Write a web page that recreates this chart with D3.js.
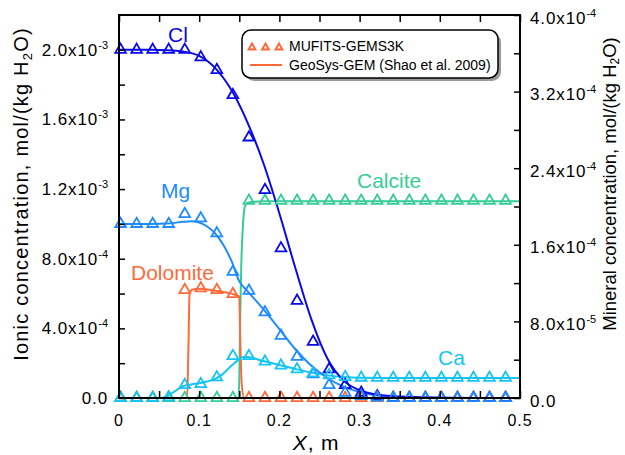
<!DOCTYPE html>
<html>
<head>
<meta charset="utf-8">
<script src="https://cdn.jsdelivr.net/npm/d3@7"></script>
<style>
body { margin: 0; background: #fff; }
text { font-family: Arial, "Liberation Sans", Helvetica, sans-serif; }
</style>
</head>
<body>
<div id="chart"></div>
<script>
// MUFITS-GEMS3K cell positions, m
const cellX = [0.002, 0.022, 0.042, 0.062, 0.082, 0.102, 0.122, 0.142, 0.162, 0.182, 0.202, 0.222, 0.242,
    0.262, 0.282, 0.302, 0.322, 0.342, 0.362, 0.382, 0.402, 0.422, 0.442, 0.462, 0.482];

// MUFITS-GEMS3K, ionic concentration, mol/kgw
const clCells = [2.0e-3, 2.0e-3, 2.0e-3, 2.0e-3, 2.0e-3, 1.957e-3, 1.884e-3, 1.740e-3, 1.497e-3, 1.195e-3, 0.860e-3,
    0.559e-3, 0.323e-3, 0.165e-3, 0.075e-3, 0.030e-3, 0.010e-3, 0, 0, 0, 0, 0, 0, 0, 0];
const mgCells = [1.0e-3, 1.0e-3, 1.0e-3, 1.0e-3, 1.057e-3, 1.032e-3, 0.946e-3, 0.725e-3, 0.616e-3, 0.492e-3, 0.358e-3,
    0.237e-3, 0.136e-3, 0.075e-3, 0.030e-3, 0.012e-3, 0.003e-3, 0, 0, 0, 0, 0, 0, 0, 0];
const caCells = [0, 0, 0, 0.004e-3, 0.075e-3, 0.080e-3, 0.119e-3, 0.241e-3, 0.241e-3, 0.209e-3, 0.186e-3, 0.165e-3,
    0.142e-3, 0.130e-3, 0.120e-3, 0.117e-3, 0.116e-3, 0.116e-3, 0.116e-3, 0.116e-3, 0.116e-3, 0.116e-3, 0.116e-3, 0.116e-3, 0.116e-3];
// MUFITS-GEMS3K, mineral concentration
const calciteCells = [0, 0, 0, 0, 0, 0, 0, 0, 2.06e-4, 2.06e-4, 2.06e-4, 2.06e-4, 2.06e-4, 2.06e-4, 2.06e-4, 2.06e-4,
    2.06e-4, 2.06e-4, 2.06e-4, 2.06e-4, 2.06e-4, 2.06e-4, 2.06e-4, 2.06e-4, 2.06e-4];
const dolomiteCells = [0, 0, 0, 0, 1.128e-4, 1.146e-4, 1.128e-4, 1.086e-4, 0, 0, 0, 0, 0, 0, 0, 0, 0, 0, 0, 0, 0, 0, 0, 0, 0];

// GeoSys-GEM (Shao et al. 2009)
const clLineX = [0, 0.04, 0.06, 0.08, 0.10, 0.12, 0.14, 0.16, 0.18, 0.20, 0.22, 0.24, 0.26, 0.28, 0.30, 0.32, 0.35, 0.40, 0.45, 0.50];
const clLineY = [2.0e-3, 2.0e-3, 1.998e-3, 1.990e-3, 1.965e-3, 1.895e-3, 1.770e-3, 1.585e-3, 1.350e-3, 1.060e-3, 0.745e-3,
    0.450e-3, 0.225e-3, 0.100e-3, 0.045e-3, 0.020e-3, 0.008e-3, 0.002e-3, 0, 0];
const mgLineX = [0, 0.04, 0.06, 0.08, 0.09, 0.10, 0.11, 0.12, 0.13, 0.14, 0.15, 0.16, 0.18, 0.20, 0.22, 0.24, 0.26, 0.28, 0.30, 0.32, 0.35, 0.40, 0.50];
const mgLineY = [1.0e-3, 1.0e-3, 1.002e-3, 1.012e-3, 1.015e-3, 1.008e-3, 0.985e-3, 0.945e-3, 0.880e-3, 0.790e-3, 0.670e-3,
    0.615e-3, 0.510e-3, 0.395e-3, 0.280e-3, 0.185e-3, 0.115e-3, 0.065e-3, 0.034e-3, 0.016e-3, 0.005e-3, 0.001e-3, 0];
const caLineX = [0, 0.05, 0.055, 0.06, 0.07, 0.08, 0.09, 0.10, 0.11, 0.12, 0.13, 0.14, 0.15, 0.155, 0.16, 0.18, 0.20, 0.22, 0.24, 0.26, 0.28, 0.30, 0.35, 0.50];
const caLineY = [0, 0, 0.002e-3, 0.010e-3, 0.040e-3, 0.068e-3, 0.078e-3, 0.085e-3, 0.095e-3, 0.110e-3, 0.140e-3, 0.185e-3,
    0.222e-3, 0.235e-3, 0.235e-3, 0.212e-3, 0.190e-3, 0.167e-3, 0.146e-3, 0.130e-3, 0.120e-3, 0.116e-3, 0.115e-3, 0.115e-3];
const calciteLineX = [0, 0.149, 0.150, 0.151, 0.1525, 0.1545, 0.157, 0.160, 0.18, 0.50];
const calciteLineY = [0, 0, 0.2e-4, 0.8e-4, 1.4e-4, 1.8e-4, 2.0e-4, 2.04e-4, 2.055e-4, 2.055e-4];
const dolomiteLineX = [0, 0.085, 0.0865, 0.088, 0.091, 0.10, 0.12, 0.14, 0.150, 0.1512, 0.153, 0.156, 0.50];
const dolomiteLineY = [0, 0, 0.5e-4, 1.08e-4, 1.13e-4, 1.14e-4, 1.12e-4, 1.09e-4, 1.06e-4, 0.6e-4, 0.15e-4, 0, 0];

// ticks
const xTickMarks = [0, 0.05, 0.1, 0.15, 0.2, 0.25, 0.3, 0.35, 0.4, 0.45, 0.5];
const xTickLabels = ["0", "0.1", "0.2", "0.3", "0.4", "0.5"];
const xTickValues = [0, 0.1, 0.2, 0.3, 0.4, 0.5];
const leftTickMarks = [0, 2e-4, 4e-4, 6e-4, 8e-4, 1.0e-3, 1.2e-3, 1.4e-3, 1.6e-3, 1.8e-3, 2.0e-3];
const leftTickValues = [0, 4e-4, 8e-4, 1.2e-3, 1.6e-3, 2.0e-3];
const leftTickMant = ["0.0", "4.0", "8.0", "1.2", "1.6", "2.0"];
const leftTickExp = ["", "-4", "-4", "-3", "-3", "-3"];
const rightTickMarks = [0, 4e-5, 8e-5, 1.2e-4, 1.6e-4, 2.0e-4, 2.4e-4, 2.8e-4, 3.2e-4, 3.6e-4, 4.0e-4];
const rightTickValues = [0, 8e-5, 1.6e-4, 2.4e-4, 3.2e-4, 4.0e-4];
const rightTickMant = ["0.0", "8.0", "1.6", "2.4", "3.2", "4.0"];
const rightTickExp = ["", "-5", "-4", "-4", "-4", "-4"];

const colors = { cl: "#0a0ae6", mg: "#1e8cff", ca: "#14c4f5", calcite: "#36cc96", dolomite: "#ff6a3a" };

const W = 625, H = 455;
const L = 119, R = 520, T = 15, B = 398;

const svg = d3.select("#chart").append("svg")
    .attr("width", W)
    .attr("height", H);

const x = d3.scaleLinear().domain([0, 0.5]).range([L, R]);
const yL = d3.scaleLinear().domain([0, 2.2e-3]).range([B, T]);
const yR = d3.scaleLinear().domain([0, 4e-4]).range([B, T]);

// lines
function drawLine(xs, ys, yScale, color) {
    const line = d3.line()
        .x(d => x(d[0]))
        .y(d => yScale(d[1]))
        .curve(d3.curveMonotoneX);
    svg.append("path")
        .datum(xs.map((v, i) => [v, ys[i]]))
        .attr("d", line)
        .attr("fill", "none")
        .attr("stroke", color)
        .attr("stroke-width", 2);
}
drawLine(calciteLineX, calciteLineY, yR, colors.calcite);
drawLine(dolomiteLineX, dolomiteLineY, yR, colors.dolomite);
drawLine(caLineX, caLineY, yL, colors.ca);
drawLine(mgLineX, mgLineY, yL, colors.mg);
drawLine(clLineX, clLineY, yL, colors.cl);

// triangles
const tri = d3.symbol().type(d3.symbolTriangle).size(50);
function drawCells(vals, yScale, color) {
    svg.append("g").selectAll("path")
        .data(vals)
        .join("path")
        .attr("d", tri)
        .attr("transform", (d, i) => `translate(${x(cellX[i])},${yScale(d)})`)
        .attr("fill", "none")
        .attr("stroke", color)
        .attr("stroke-width", 1.8);
}
drawCells(dolomiteCells, yR, colors.dolomite);
drawCells(calciteCells, yR, colors.calcite);
drawCells(clCells, yL, colors.cl);
drawCells(mgCells, yL, colors.mg);
drawCells(caCells, yL, colors.ca);

// axes (ticks pointing inward)
function tickStyle(g) {
    g.select(".domain").remove();
    g.selectAll(".tick line").attr("stroke", "#000").attr("stroke-width", 1.5);
}
svg.append("g").attr("transform", `translate(0,${B})`)
    .call(d3.axisBottom(x).tickValues(xTickMarks).tickSize(-7).tickFormat(""))
    .call(tickStyle);
svg.append("g").attr("transform", `translate(0,${T})`)
    .call(d3.axisTop(x).tickValues(xTickMarks).tickSize(-7).tickFormat(""))
    .call(tickStyle);
svg.append("g").attr("transform", `translate(${L},0)`)
    .call(d3.axisLeft(yL).tickValues(leftTickMarks).tickSize(-6).tickFormat(""))
    .call(tickStyle);
svg.append("g").attr("transform", `translate(${R},0)`)
    .call(d3.axisRight(yR).tickValues(rightTickMarks).tickSize(-6).tickFormat(""))
    .call(tickStyle);

svg.append("rect")
    .attr("x", L).attr("y", T)
    .attr("width", R - L).attr("height", B - T)
    .attr("fill", "none")
    .attr("stroke", "#000")
    .attr("stroke-width", 2);

// tick labels
svg.append("g").selectAll("text")
    .data(xTickValues)
    .join("text")
    .attr("x", d => x(d))
    .attr("y", 426)
    .attr("text-anchor", "middle")
    .attr("font-size", 16)
    .attr("letter-spacing", 1)
    .text((d, i) => xTickLabels[i]);

function sciLabels(vals, mant, exps, yScale, xPos, anchor, dy) {
    const t = svg.append("g").selectAll("text")
        .data(vals)
        .join("text")
        .attr("x", xPos)
        .attr("y", d => yScale(d) + dy)
        .attr("text-anchor", anchor)
        .attr("font-size", 17)
        .attr("letter-spacing", 0.9);
    t.append("tspan").text((d, i) => exps[i] ? mant[i] + "x10" : mant[i]);
    t.filter((d, i) => exps[i]).append("tspan")
        .attr("font-size", 11)
        .attr("dy", -7)
        .attr("letter-spacing", 0)
        .text(d => exps[vals.indexOf(d)]);
}
sciLabels(leftTickValues, leftTickMant, leftTickExp, yL, 108, "end", 6);
sciLabels(rightTickValues, rightTickMant, rightTickExp, yR, 530, "start", 8.5);

// axis titles
const yTitleL = svg.append("text")
    .attr("transform", "translate(28,194) rotate(-90)")
    .attr("text-anchor", "middle")
    .attr("font-size", 20)
    .attr("letter-spacing", 1.2);
yTitleL.append("tspan").text("Ionic concentration, mol/(kg H");
yTitleL.append("tspan").attr("font-size", 13).attr("dy", 4).text("2");
yTitleL.append("tspan").attr("dy", -4).text("O)");

const yTitleR = svg.append("text")
    .attr("transform", "translate(616,184) rotate(-90)")
    .attr("text-anchor", "middle")
    .attr("font-size", 18.5);
yTitleR.append("tspan").text("Mineral concentration, mol/(kg H");
yTitleR.append("tspan").attr("font-size", 12).attr("dy", 3).text("2");
yTitleR.append("tspan").attr("dy", -3).text("O)");

const xTitle = svg.append("text")
    .attr("x", 316).attr("y", 450)
    .attr("text-anchor", "middle")
    .attr("font-size", 21)
    .attr("letter-spacing", 0.8);
xTitle.append("tspan").attr("font-style", "italic").text("X");
xTitle.append("tspan").text(", m");

// series labels
const seriesLabels = [
    { text: "Cl", x: 168, y: 42, c: colors.cl },
    { text: "Mg", x: 161, y: 198, c: colors.mg },
    { text: "Calcite", x: 357, y: 188, c: colors.calcite },
    { text: "Dolomite", x: 131, y: 280, c: colors.dolomite },
    { text: "Ca", x: 438, y: 365, c: colors.ca }
];
svg.append("g").selectAll("text")
    .data(seriesLabels)
    .join("text")
    .attr("x", d => d.x)
    .attr("y", d => d.y)
    .attr("font-size", 21)
    .attr("fill", d => d.c)
    .text(d => d.text);

// legend
const lg = svg.append("g").attr("transform", "translate(242,30)");
lg.append("rect")
    .attr("x", 3).attr("y", 3)
    .attr("width", 256).attr("height", 48)
    .attr("rx", 9)
    .attr("fill", "#9a9a9a");
lg.append("rect")
    .attr("width", 256).attr("height", 48)
    .attr("rx", 9)
    .attr("fill", "#fff")
    .attr("stroke", "#000")
    .attr("stroke-width", 1.5);
lg.append("g").selectAll("path")
    .data([10, 23.5, 37])
    .join("path")
    .attr("d", d3.symbol().type(d3.symbolTriangle).size(20))
    .attr("transform", d => `translate(${d},17.5)`)
    .attr("fill", "none")
    .attr("stroke", colors.dolomite)
    .attr("stroke-width", 2);
lg.append("text").attr("x", 47).attr("y", 21).attr("font-size", 14).text("MUFITS-GEMS3K");
lg.append("line")
    .attr("x1", 8).attr("x2", 40)
    .attr("y1", 35).attr("y2", 35)
    .attr("stroke", colors.dolomite)
    .attr("stroke-width", 2);
lg.append("text").attr("x", 47).attr("y", 40).attr("font-size", 14).text("GeoSys-GEM (Shao et al. 2009)");
</script>
</body>
</html>
